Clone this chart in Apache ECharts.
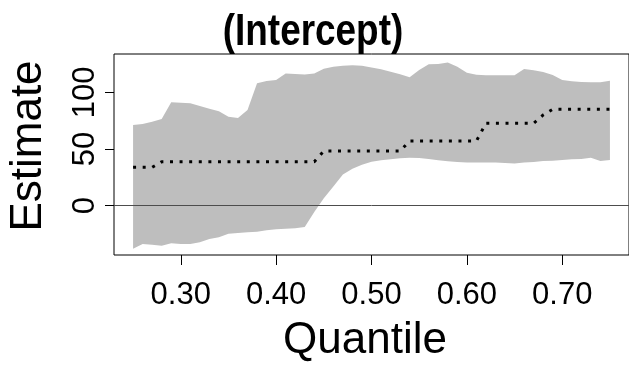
<!DOCTYPE html>
<html>
<head>
<meta charset="utf-8">
<script src="https://cdn.jsdelivr.net/npm/echarts@6/dist/echarts.min.js"></script>
<style>
  html, body { margin: 0; padding: 0; background: #ffffff; }
  #chart { width: 629px; height: 366px; }
</style>
</head>
<body>
<div id="chart"></div>
<script>
// Quantile-regression coefficient for the intercept, with its confidence band
const taus = [
  0.25, 0.26, 0.27, 0.28, 0.29, 0.30, 0.31, 0.32, 0.33, 0.34,
  0.35, 0.36, 0.37, 0.38, 0.39, 0.40, 0.41, 0.42, 0.43, 0.44,
  0.45, 0.46, 0.47, 0.48, 0.49, 0.50, 0.51, 0.52, 0.53, 0.54,
  0.55, 0.56, 0.57, 0.58, 0.59, 0.60, 0.61, 0.62, 0.63, 0.64,
  0.65, 0.66, 0.67, 0.68, 0.69, 0.70, 0.71, 0.72, 0.73, 0.74, 0.75
];
const estimate = [
  33.9, 33.9, 33.9, 38.8, 38.8, 38.8, 38.8, 38.8, 38.8, 38.8,
  38.8, 38.8, 38.8, 38.8, 38.8, 38.8, 38.8, 38.8, 38.8, 38.8,
  48.2, 48.2, 48.2, 48.2, 48.2, 48.2, 48.2, 48.2, 48.2, 57.1,
  57.1, 57.1, 57.1, 57.1, 57.1, 57.1, 57.1, 72.7, 72.7, 72.7,
  72.7, 72.7, 72.7, 80.0, 85.0, 85.0, 85.0, 85.0, 85.0, 85.0, 85.0
];
const lower = [
  -38.0, -33.8, -34.4, -35.3, -33.2, -33.8, -33.8, -32.3, -29.4, -27.9,
  -24.7, -24.1, -23.5, -22.9, -21.7, -20.8, -20.3, -19.9, -18.8, -5.5,
  6.5, 17.0, 27.5, 32.5, 36.0, 38.8, 40.0, 40.9, 41.8, 42.3,
  42.0, 41.2, 40.0, 39.1, 38.5, 38.2, 38.2, 38.2, 38.0, 37.6,
  37.3, 38.2, 38.5, 39.4, 39.7, 40.3, 40.9, 41.2, 42.3, 39.4, 40.3
];
const upper = [
  71.2, 72.0, 74.0, 76.5, 91.2, 90.8, 90.3, 87.9, 85.5, 83.2,
  78.5, 77.3, 84.4, 107.9, 110.0, 110.8, 116.7, 116.1, 115.8, 116.7,
  120.8, 122.6, 123.5, 123.8, 123.5, 122.0, 120.3, 118.2, 115.9, 113.2,
  119.7, 124.7, 125.0, 126.4, 122.6, 117.3, 115.5, 115.0, 115.0, 115.0,
  115.0, 120.5, 119.4, 117.9, 115.3, 110.8, 109.7, 109.1, 108.8, 108.8, 110.2
];
const xTicks = [0.30, 0.40, 0.50, 0.60, 0.70];
const yTicks = [0, 50, 100];
const titleText = '(Intercept)';
const xName = 'Quantile';
const yName = 'Estimate';

const pairs = (ys) => taus.map((t, i) => [t, ys[i]]);
const bandData = taus.map((t, i) => [t, lower[i], upper[i]]);

// The band is one polygon: upper edge left to right, lower edge back again
function renderBand(params, api) {
  if (params.dataIndex !== 0) return null;
  const pts = [];
  for (let i = 0; i < taus.length; i++) pts.push(api.coord([taus[i], upper[i]]));
  for (let i = taus.length - 1; i >= 0; i--) pts.push(api.coord([taus[i], lower[i]]));
  return {
    type: 'polygon',
    shape: { points: pts },
    style: { fill: '#bebebe', stroke: null }
  };
}

const chart = echarts.init(document.getElementById('chart'), null, { renderer: 'canvas' });

chart.setOption({
  backgroundColor: '#ffffff',
  animation: false,
  grid: {
    left: 114, top: 54, bottom: 111, right: -3,
    show: true, borderColor: '#000000', borderWidth: 1, backgroundColor: 'transparent'
  },
  graphic: [
    {
      type: 'text', x: 313, y: 33, scaleX: 0.82,
      style: {
        text: titleText,
        font: 'bold 45px "Liberation Sans", Arial, sans-serif',
        fill: '#000000', align: 'center', verticalAlign: 'middle'
      }
    },
    {
      type: 'text', x: 365, y: 341,
      style: {
        text: xName, font: '44px "Liberation Sans", Arial, sans-serif',
        fill: '#000000', align: 'center', verticalAlign: 'middle'
      }
    },
    {
      type: 'text', x: 29, y: 146, rotation: Math.PI / 2,
      style: {
        text: yName, font: '44px "Liberation Sans", Arial, sans-serif',
        fill: '#000000', align: 'center', verticalAlign: 'middle'
      }
    }
  ],
  xAxis: {
    type: 'value', min: 0.23, max: 0.77,
    axisLine: { show: false, onZero: false },
    splitLine: { show: false },
    axisTick: {
      show: true, length: 10, customValues: xTicks,
      lineStyle: { color: '#000000', width: 1 }
    },
    axisLabel: {
      show: true, margin: 25, customValues: xTicks,
      formatter: (v) => v.toFixed(2),
      fontFamily: '"Liberation Sans", Arial, sans-serif', fontSize: 31, color: '#000000'
    }
  },
  yAxis: {
    type: 'value', min: -43.5, max: 133.8,
    axisLine: { show: false, onZero: false },
    splitLine: { show: false },
    axisTick: {
      show: true, length: 9, customValues: yTicks,
      lineStyle: { color: '#000000', width: 1 }
    },
    axisLabel: {
      show: true, rotate: 90, margin: 13, customValues: yTicks,
      fontFamily: '"Liberation Sans", Arial, sans-serif', fontSize: 31, color: '#000000'
    }
  },
  series: [
    {
      name: 'band', type: 'custom', data: bandData, z: 1, silent: true,
      renderItem: renderBand,
      encode: { x: 0, y: [1, 2] }
    },
    {
      name: 'zero', type: 'line', data: [], z: 2, silent: true,
      markLine: {
        silent: true, symbol: ['none', 'none'], label: { show: false },
        lineStyle: { color: '#4d4d4d', width: 1, type: 'solid' },
        data: [{ yAxis: 0 }]
      }
    },
    {
      name: 'estimate', type: 'line', data: pairs(estimate), z: 3,
      symbol: 'none', silent: true,
      lineStyle: { color: '#000000', width: 3, type: [3, 6.6], cap: 'butt' }
    }
  ]
});
</script>
</body>
</html>
